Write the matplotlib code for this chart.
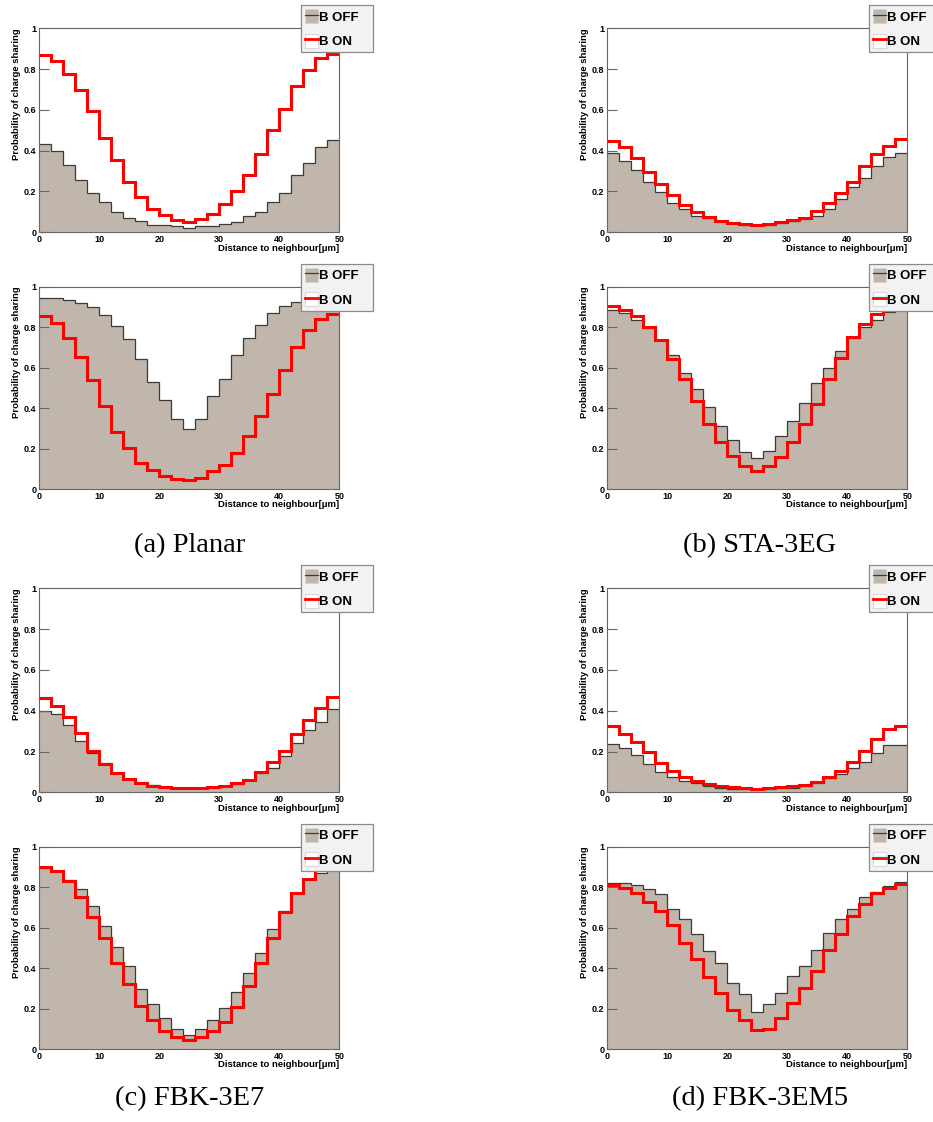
import numpy as np
import matplotlib
matplotlib.use("Agg")
import matplotlib.pyplot as plt
from matplotlib.patches import Patch
from matplotlib.lines import Line2D
from matplotlib.legend_handler import HandlerTuple

# ---------------- data (25 bins of 2 um, 0..50 um) ----------------
bin_edges = np.arange(0, 52, 2)

planar_upper_off = [0.433, 0.399, 0.332, 0.258, 0.191, 0.147, 0.101, 0.070, 0.056, 0.038,
                    0.038, 0.029, 0.023, 0.033, 0.029, 0.042, 0.052, 0.080, 0.101, 0.150,
                    0.191, 0.279, 0.340, 0.420, 0.451]
planar_upper_on = [0.869, 0.840, 0.778, 0.696, 0.595, 0.461, 0.353, 0.248, 0.173, 0.114,
                   0.085, 0.060, 0.049, 0.065, 0.092, 0.137, 0.201, 0.283, 0.382, 0.500,
                   0.606, 0.716, 0.794, 0.853, 0.873]
planar_lower_off = [0.946, 0.942, 0.936, 0.921, 0.898, 0.859, 0.808, 0.743, 0.641, 0.528,
                    0.439, 0.349, 0.296, 0.349, 0.459, 0.546, 0.664, 0.747, 0.809, 0.872,
                    0.903, 0.924, 0.934, 0.940, 0.942]
planar_lower_on = [0.855, 0.821, 0.747, 0.651, 0.538, 0.411, 0.285, 0.204, 0.128, 0.095,
                   0.067, 0.051, 0.046, 0.058, 0.090, 0.120, 0.178, 0.263, 0.360, 0.470,
                   0.590, 0.701, 0.788, 0.839, 0.865]

sta_upper_off = [0.387, 0.351, 0.307, 0.247, 0.199, 0.145, 0.116, 0.080, 0.072, 0.054,
                 0.046, 0.038, 0.034, 0.038, 0.046, 0.056, 0.064, 0.080, 0.113, 0.165,
                 0.221, 0.265, 0.327, 0.371, 0.391]
sta_upper_on = [0.446, 0.417, 0.363, 0.296, 0.235, 0.185, 0.134, 0.098, 0.074, 0.056,
                0.047, 0.041, 0.038, 0.041, 0.049, 0.060, 0.072, 0.103, 0.145, 0.194,
                0.247, 0.325, 0.382, 0.423, 0.456]
sta_lower_off = [0.885, 0.868, 0.834, 0.798, 0.737, 0.664, 0.572, 0.495, 0.406, 0.314,
                 0.242, 0.186, 0.155, 0.191, 0.262, 0.336, 0.428, 0.523, 0.597, 0.683,
                 0.748, 0.803, 0.836, 0.875, 0.893]
sta_lower_on = [0.905, 0.885, 0.855, 0.803, 0.738, 0.641, 0.544, 0.434, 0.324, 0.234,
                0.164, 0.117, 0.092, 0.115, 0.158, 0.234, 0.321, 0.421, 0.543, 0.650,
                0.750, 0.814, 0.865, 0.890, 0.900]

fbk3e7_upper_off = [0.400, 0.386, 0.332, 0.252, 0.194, 0.145, 0.093, 0.067, 0.047, 0.034,
                    0.028, 0.023, 0.021, 0.023, 0.025, 0.031, 0.041, 0.060, 0.093, 0.121,
                    0.178, 0.243, 0.306, 0.346, 0.407]
fbk3e7_upper_on = [0.464, 0.425, 0.369, 0.289, 0.204, 0.137, 0.093, 0.065, 0.044, 0.033,
                   0.026, 0.021, 0.020, 0.023, 0.026, 0.033, 0.044, 0.062, 0.101, 0.147,
                   0.204, 0.284, 0.353, 0.415, 0.466]
fbk3e7_lower_off = [0.895, 0.882, 0.836, 0.789, 0.707, 0.610, 0.507, 0.409, 0.298, 0.222,
                    0.156, 0.099, 0.072, 0.100, 0.143, 0.202, 0.285, 0.378, 0.474, 0.595,
                    0.684, 0.773, 0.839, 0.872, 0.900]
fbk3e7_lower_on = [0.901, 0.880, 0.831, 0.752, 0.653, 0.549, 0.424, 0.321, 0.212, 0.146,
                   0.089, 0.063, 0.048, 0.061, 0.089, 0.133, 0.211, 0.312, 0.424, 0.549,
                   0.676, 0.771, 0.842, 0.885, 0.900]

fbk3em5_upper_off = [0.237, 0.216, 0.181, 0.137, 0.101, 0.077, 0.057, 0.044, 0.029, 0.023,
                     0.018, 0.016, 0.016, 0.016, 0.020, 0.023, 0.031, 0.044, 0.069, 0.092,
                     0.121, 0.147, 0.194, 0.230, 0.230]
fbk3em5_upper_on = [0.325, 0.288, 0.247, 0.196, 0.144, 0.106, 0.077, 0.054, 0.042, 0.031,
                    0.025, 0.021, 0.018, 0.020, 0.025, 0.029, 0.038, 0.051, 0.074, 0.103,
                    0.150, 0.204, 0.260, 0.312, 0.327]
fbk3em5_lower_off = [0.822, 0.822, 0.811, 0.793, 0.766, 0.694, 0.645, 0.567, 0.485, 0.424,
                     0.329, 0.273, 0.184, 0.224, 0.276, 0.363, 0.413, 0.492, 0.574, 0.641,
                     0.692, 0.752, 0.775, 0.806, 0.826]
fbk3em5_lower_on = [0.809, 0.798, 0.773, 0.725, 0.683, 0.613, 0.525, 0.444, 0.357, 0.280,
                    0.196, 0.143, 0.095, 0.099, 0.155, 0.227, 0.301, 0.388, 0.488, 0.567,
                    0.656, 0.715, 0.773, 0.798, 0.816]

captions = ["(a) Planar", "(b) STA-3EG", "(c) FBK-3E7", "(d) FBK-3EM5"]
legend_labels = ["B OFF", "B ON"]
x_label = "Distance to neighbour[\u03bcm]"
y_label = "Probability of charge sharing"
x_ticks = [0, 10, 20, 30, 40, 50]
y_ticks = [0, 0.2, 0.4, 0.6, 0.8, 1.0]
y_ticklabels = ["0", "0.2", "0.4", "0.6", "0.8", "1"]

# ---------------- styling ----------------
FILL = "#c0b6ab"
EDGE_OFF = "#3a3a3a"
RED = "#ff0000"
FRAME = "#666666"
SANS = ["Liberation Sans", "DejaVu Sans"]
SERIF = ["Liberation Serif", "DejaVu Serif"]

W, H = 933, 1122
fig = plt.figure(figsize=(W / 100, H / 100), dpi=100)

col_left_px = [39.3, 607.3]
ax_w_px = 300.0
rows_px = [(28.3, 232.3), (286.7, 489.3), (588.3, 792.3), (846.7, 1049.3)]

panels = [
    (0, 0, planar_upper_off, planar_upper_on),
    (0, 1, planar_lower_off, planar_lower_on),
    (1, 0, sta_upper_off, sta_upper_on),
    (1, 1, sta_lower_off, sta_lower_on),
    (0, 2, fbk3e7_upper_off, fbk3e7_upper_on),
    (0, 3, fbk3e7_lower_off, fbk3e7_lower_on),
    (1, 2, fbk3em5_upper_off, fbk3em5_upper_on),
    (1, 3, fbk3em5_lower_off, fbk3em5_lower_on),
]

for col, row, off, on in panels:
    top, bot = rows_px[row]
    rect = [col_left_px[col] / W, 1 - bot / H, ax_w_px / W, (bot - top) / H]
    ax = fig.add_axes(rect)
    ax.stairs(off, bin_edges, fill=True, color=FILL, zorder=1)
    ax.stairs(off, bin_edges, baseline=None, color=EDGE_OFF, lw=0.9, zorder=1.2)
    ax.stairs(on, bin_edges, baseline=None, color=RED, lw=2.2, zorder=3)
    ax.set_xlim(0, 50)
    ax.set_ylim(0, 1)
    ax.set_xticks(x_ticks)
    ax.set_xticklabels([str(t) for t in x_ticks], family=SANS, weight="bold", fontsize=6.5)
    ax.set_yticks(y_ticks)
    ax.set_yticklabels(y_ticklabels, family=SANS, weight="bold", fontsize=6.5)
    ax.tick_params(axis="x", length=0, pad=2.0)
    ax.tick_params(axis="y", direction="in", length=7, width=0.8, color=FRAME, pad=2.0)
    for s in ax.spines.values():
        s.set_color(FRAME)
        s.set_linewidth(0.8)
    ax.set_xlabel(x_label, family=SANS, weight="bold", fontsize=6.8, loc="right")
    ax.xaxis.set_label_coords(1.0, -0.055)
    ax.set_ylabel(y_label, family=SANS, weight="bold", fontsize=6.8, loc="top")
    ax.yaxis.set_label_coords(-0.062, 1.0)

    h_off = (Patch(facecolor=FILL, edgecolor="#d8d2cc", lw=0.6),
             Line2D([], [], color=EDGE_OFF, lw=0.9))
    h_on = (Patch(facecolor="white", edgecolor="#d0d0d0", lw=0.6),
            Line2D([], [], color=RED, lw=2.0))
    leg = ax.legend([h_off, h_on], legend_labels,
                    handler_map={tuple: HandlerTuple(ndivide=1, pad=0)},
                    loc="upper left", bbox_to_anchor=(0.872, 0.879, 0.24, 0.235),
                    bbox_transform=ax.transAxes, borderaxespad=0, mode="expand",
                    prop={"family": SANS, "weight": "bold", "size": 9.5},
                    handlelength=1.0, handleheight=1.3, handletextpad=0.1,
                    borderpad=0.3, labelspacing=0.75, fancybox=False,
                    frameon=True, framealpha=1)
    leg.get_frame().set_facecolor("#f2f2f2")
    leg.get_frame().set_edgecolor("#8a8a8a")
    leg.get_frame().set_linewidth(0.9)
    leg.set_zorder(10)

caption_pos = [(190, 546), (760, 546), (190, 1099), (760, 1099)]
for text, (cx, cy) in zip(captions, caption_pos):
    fig.text(cx / W, 1 - cy / H, text, family=SERIF, fontsize=20.5,
             ha="center", va="center")

fig.savefig("out.png", dpi=100)
